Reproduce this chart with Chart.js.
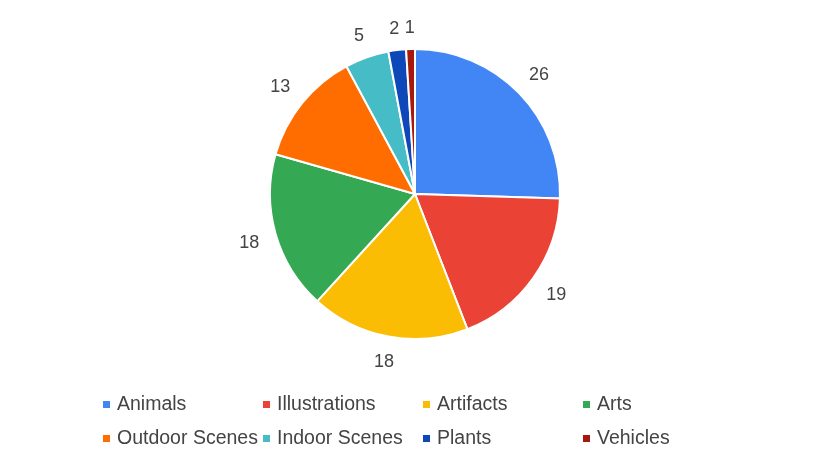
<!DOCTYPE html>
<html>
<head>
<meta charset="utf-8">
<script src="https://cdn.jsdelivr.net/npm/chart.js@4"></script>
<style>
  body { margin: 0; background: #fff; }
  #wrap { position: relative; width: 830px; height: 466px; }
  #legend { position: absolute; left: 103px; top: 393px; width: 640px;
    font-family: "Liberation Sans", Arial, sans-serif; font-size: 19.5px; color: #444; }
  .item { position: absolute; white-space: nowrap; line-height: 20px; }
  .box { display: inline-block; width: 7px; height: 7px; margin-right: 7px; vertical-align: 2px; }
</style>
</head>
<body>
<div id="wrap">
  <canvas id="pie" width="830" height="466"></canvas>
  <div id="legend"></div>
</div>
<script>
// data
var categories = ["Animals", "Illustrations", "Artifacts", "Arts", "Outdoor Scenes", "Indoor Scenes", "Plants", "Vehicles"];
var counts = [26, 19, 18, 18, 13, 5, 2, 1];
var colors = ["#4285F4", "#EA4335", "#FBBC04", "#34A853", "#FF6D01", "#46BDC6", "#0D47B8", "#A5190E"];

// value labels outside each slice; the text box's nearest edge sits at a fixed gap from the rim
var outsideLabels = {
    id: "outsideLabels",
    afterDatasetsDraw: function(chart) {
        var ctx = chart.ctx;
        var meta = chart.getDatasetMeta(0);
        var capH = 13;
        ctx.save();
        ctx.font = "18px 'Liberation Sans', Arial, sans-serif";
        ctx.fillStyle = "#444";
        ctx.textAlign = "center";
        ctx.textBaseline = "alphabetic";
        meta.data.forEach(function(arc, i) {
            var txt = String(counts[i]);
            var w = ctx.measureText(txt).width;
            var mid = (arc.startAngle + arc.endAngle) / 2;
            var cx = Math.cos(mid), cy = Math.sin(mid);
            var r = arc.outerRadius + 16 + Math.abs(cx) * w / 2 + Math.abs(cy) * capH / 2;
            ctx.fillText(txt, arc.x + cx * r, arc.y + cy * r + capH / 2);
        });
        ctx.restore();
    }
};

new Chart(document.getElementById("pie").getContext("2d"), {
    type: "pie",
    data: {
        labels: categories,
        datasets: [{
            data: counts,
            backgroundColor: colors,
            borderColor: "#fff",
            borderWidth: 2
        }]
    },
    options: {
        responsive: false,
        animation: false,
        layout: { padding: { top: 48, bottom: 126, left: 0, right: 0 } },
        plugins: {
            legend: { display: false },
            tooltip: { enabled: false }
        }
    },
    plugins: [outsideLabels]
});

// legend in a 4-column grid
var legend = document.getElementById("legend");
categories.forEach(function(name, i) {
    var el = document.createElement("div");
    el.className = "item";
    el.style.left = (i % 4) * 160 + "px";
    el.style.top = Math.floor(i / 4) * 34 + "px";
    el.innerHTML = '<span class="box" style="background:' + colors[i] + '"></span>' + name;
    legend.appendChild(el);
});
</script>
</body>
</html>
